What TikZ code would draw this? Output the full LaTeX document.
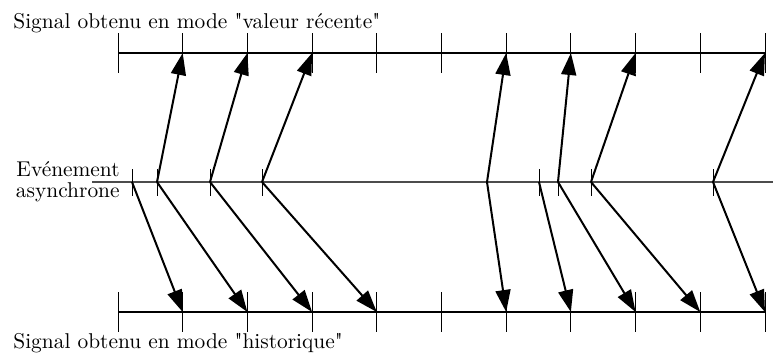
\documentclass[tikz,border=0pt]{standalone}
\usepackage{fontspec}
\usepackage{tikz}
\usetikzlibrary{arrows.meta, calc}

\begin{document}
\begin{tikzpicture}[x=0.5pt, y=-0.5pt,
  axe/.style={line width=0.6pt},
  graduation/.style={line width=0.5pt},
  echant/.style={line width=1pt, -{Triangle[length=11pt, width=7.5pt]}},
  legende/.style={inner sep=0pt, font=\fontsize{10.7}{10.5}\selectfont}]
\useasboundingbox (0,0) rectangle (773,354);
% time grid of the two sampled signals
\foreach \i in {0,...,10} {
  \coordinate (t\i) at (118+64.7*\i, 53);
  \coordinate (b\i) at (118+64.7*\i, 312);
  \draw[graduation] (118+64.7*\i, 33) -- (118+64.7*\i, 73);
  \draw[graduation] (118+64.7*\i, 292) -- (118+64.7*\i, 332);
}
\draw[axe] (t0) -- (t10);
\draw[axe] (b0) -- (b10);
% asynchronous events
\draw[axe, black!70] (92,182) -- (773,182);
\foreach \n/\x in {1/132, 2/157, 3/210, 4/262, 5/487, 6/539, 7/558, 8/591, 9/713}
  \coordinate (e\n) at (\x, 182);
\foreach \n in {1,2,3,4,6,7,8,9}
  \draw[graduation] ($(e\n)+(0,-13)$) -- ($(e\n)+(0,14)$);
% labels
\node[legende, anchor=base west] (haut) at (13,28) {Signal obtenu en mode \textquotedbl valeur récente\textquotedbl};
\node[legende, anchor=base west] (bas) at (13,348) {Signal obtenu en mode \textquotedbl historique\textquotedbl};
\node[legende, align=right, anchor=east] (evt) at (120,182) {Evénement\\asynchrone};
% mode "valeur recente"
\foreach \e/\t in {2/1, 3/2, 4/3, 5/6, 7/7, 8/8, 9/10}
  \draw[echant] (e\e) -- (t\t);
% mode "historique"
\foreach \e/\t in {1/1, 2/2, 3/3, 4/4, 5/6, 6/7, 7/8, 8/9, 9/10}
  \draw[echant] (e\e) -- (b\t);
\end{tikzpicture}
\end{document}
